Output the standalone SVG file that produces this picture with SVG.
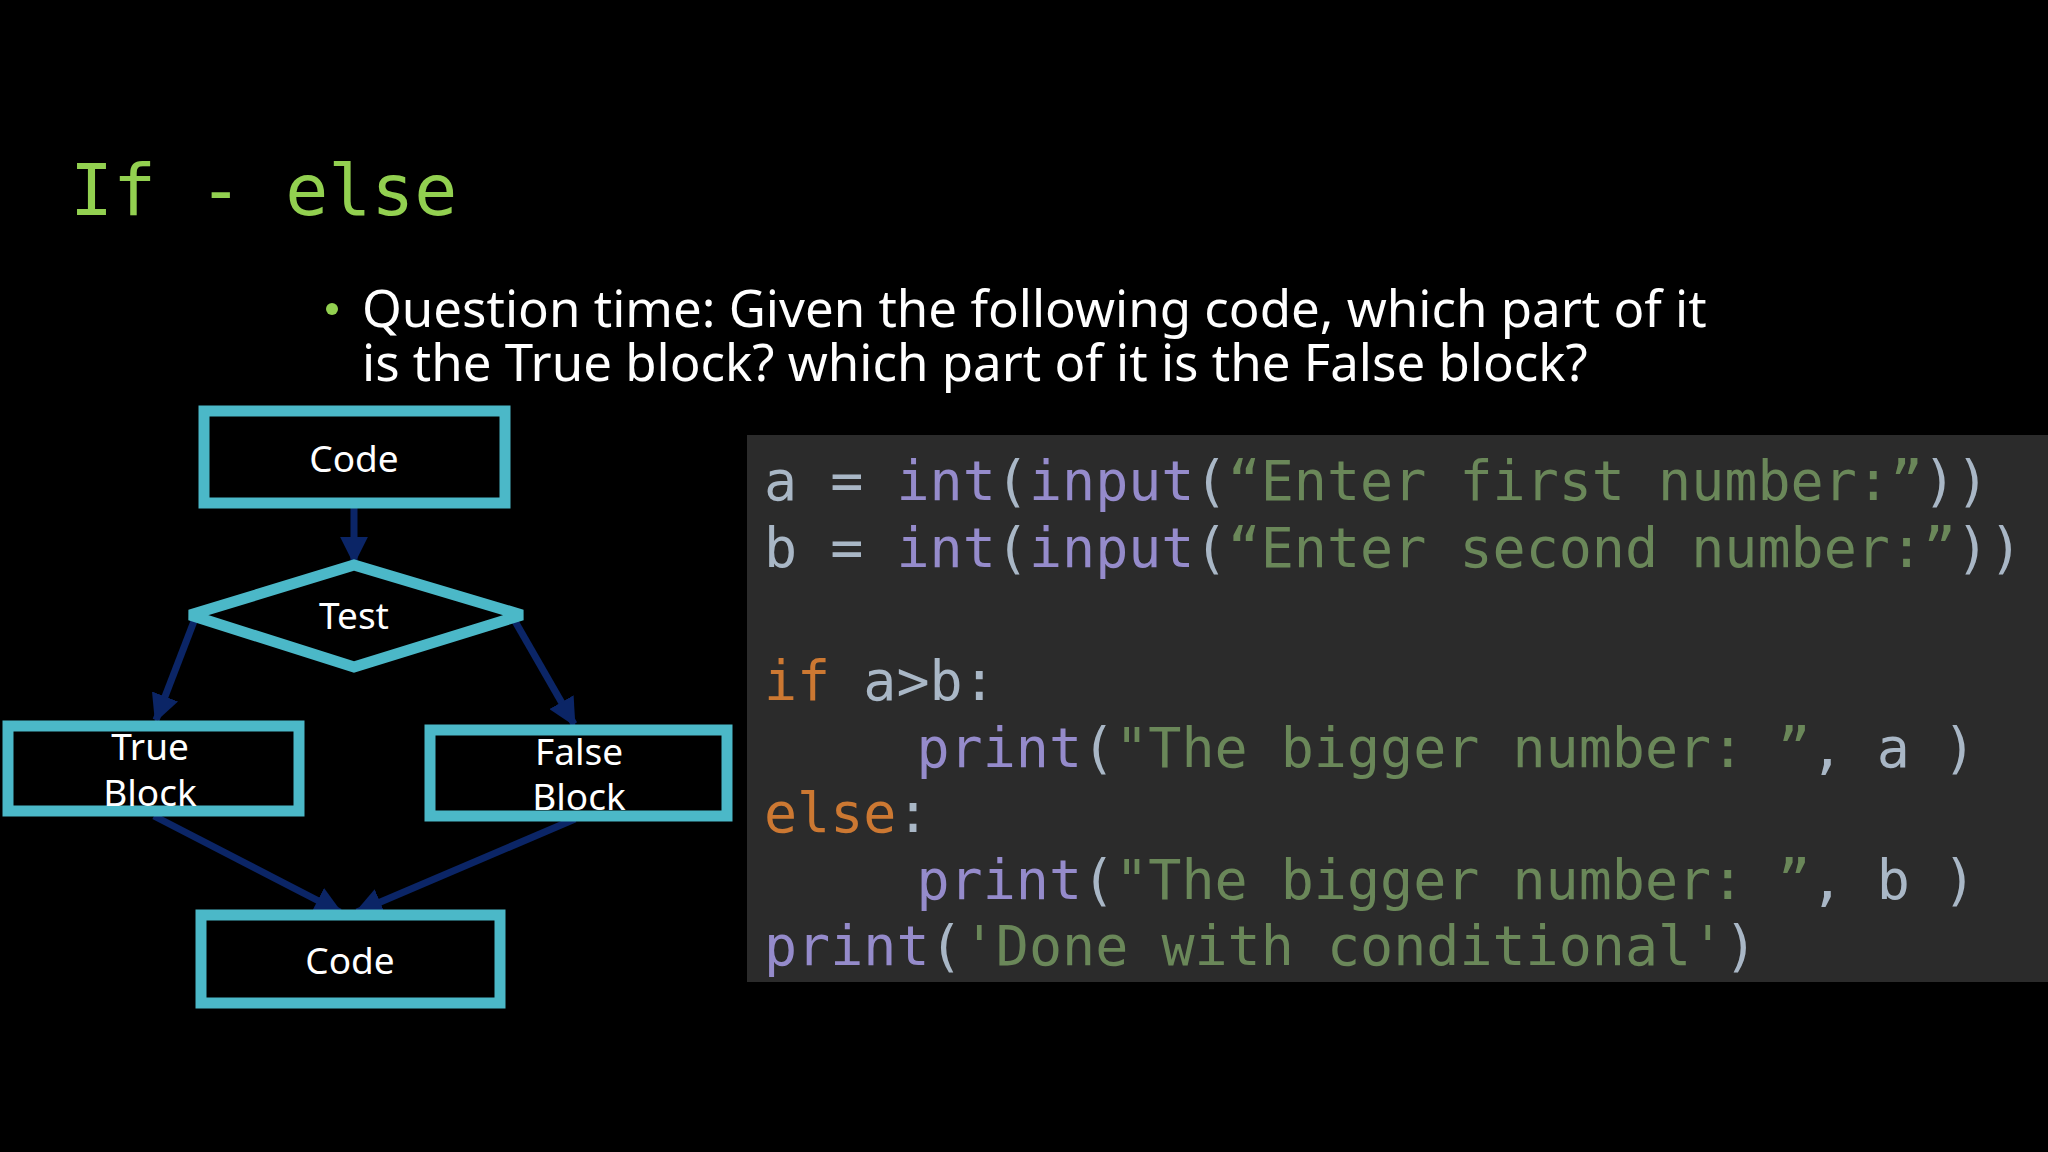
<svg xmlns="http://www.w3.org/2000/svg" width="2048" height="1152" viewBox="0 0 2048 1152">
<defs>
<style>
.box{fill:#000;stroke:#4BB8C8;stroke-width:11;stroke-miterlimit:2}
.lbl{font-family:"Noto Sans","Open Sans",sans-serif;font-size:37px;fill:#fff;text-anchor:middle}
.con{stroke:#0B2566;stroke-width:7;fill:none;marker-end:url(#ah)}
.code{font-family:"DejaVu Sans Mono",monospace;font-size:55px;fill:#A9B7C6;white-space:pre}
.p{fill:#958BCB}.g{fill:#6A8759}.o{fill:#CC7832}
</style>
<marker id="ah" viewBox="0 0 10 10" refX="9" refY="5" markerWidth="4" markerHeight="4" orient="auto" markerUnits="strokeWidth">
<path d="M0,0L10,5L0,10z" fill="#0B2566"/>
</marker>
</defs>
<rect width="2048" height="1152" fill="#000"/>
<text x="70" y="215" font-family="DejaVu Sans Mono,monospace" font-size="71.5" fill="#92D050">If - else</text>
<circle cx="332" cy="309" r="6" fill="#92D050"/>
<text font-family="Noto Sans,Open Sans,sans-serif" font-size="51" fill="#fff"><tspan x="362" y="327">Question time: Given the following code, which part of it</tspan><tspan x="362" y="381">is the True block? which part of it is the False block?</tspan></text>
<g id="connectors">
<line class="con" x1="354" y1="506" x2="354" y2="562"/>
<line class="con" x1="196" y1="616" x2="156" y2="720"/>
<line class="con" x1="512" y1="616" x2="574" y2="724"/>
<line class="con" x1="154" y1="816" x2="340" y2="912"/>
<line class="con" x1="575" y1="819" x2="357" y2="912"/>
</g>
<g id="code1"><rect class="box" x="204" y="411" width="301" height="92"/><text class="lbl" x="354" y="472">Code</text></g>
<g id="test"><polygon class="box" points="190,615 354,565 522,615 354,667"/><text class="lbl" x="354" y="629">Test</text></g>
<g id="trueblock"><rect class="box" x="8" y="726" width="291" height="85"/><text class="lbl" x="150" y="760">True</text><text class="lbl" x="150" y="806">Block</text></g>
<g id="falseblock"><rect class="box" x="430" y="730" width="297" height="86"/><text class="lbl" x="579" y="765">False</text><text class="lbl" x="579" y="810">Block</text></g>
<g id="code2"><rect class="box" x="201" y="915" width="299" height="88"/><text class="lbl" x="350" y="974">Code</text></g>
<g id="codepanel">
<rect x="747" y="435" width="1301" height="547" fill="#2B2B2B"/>
<text class="code" x="764" y="500">a = <tspan class="p">int</tspan>(<tspan class="p">input</tspan>(<tspan class="g">“Enter first number:”</tspan>))</text>
<text class="code" x="764" y="567">b = <tspan class="p">int</tspan>(<tspan class="p">input</tspan>(<tspan class="g">“Enter second number:”</tspan>))</text>
<text class="code" x="764" y="700"><tspan class="o">if</tspan> a&gt;b:</text>
<text class="code" x="784" y="767">    <tspan class="p">print</tspan>(<tspan class="g">"The bigger number: ”</tspan>, a )</text>
<text class="code" x="764" y="832"><tspan class="o">else</tspan>:</text>
<text class="code" x="784" y="899">    <tspan class="p">print</tspan>(<tspan class="g">"The bigger number: ”</tspan>, b )</text>
<text class="code" x="764" y="965"><tspan class="p">print</tspan>(<tspan class="g">'Done with conditional'</tspan>)</text>
</g>
</svg>
